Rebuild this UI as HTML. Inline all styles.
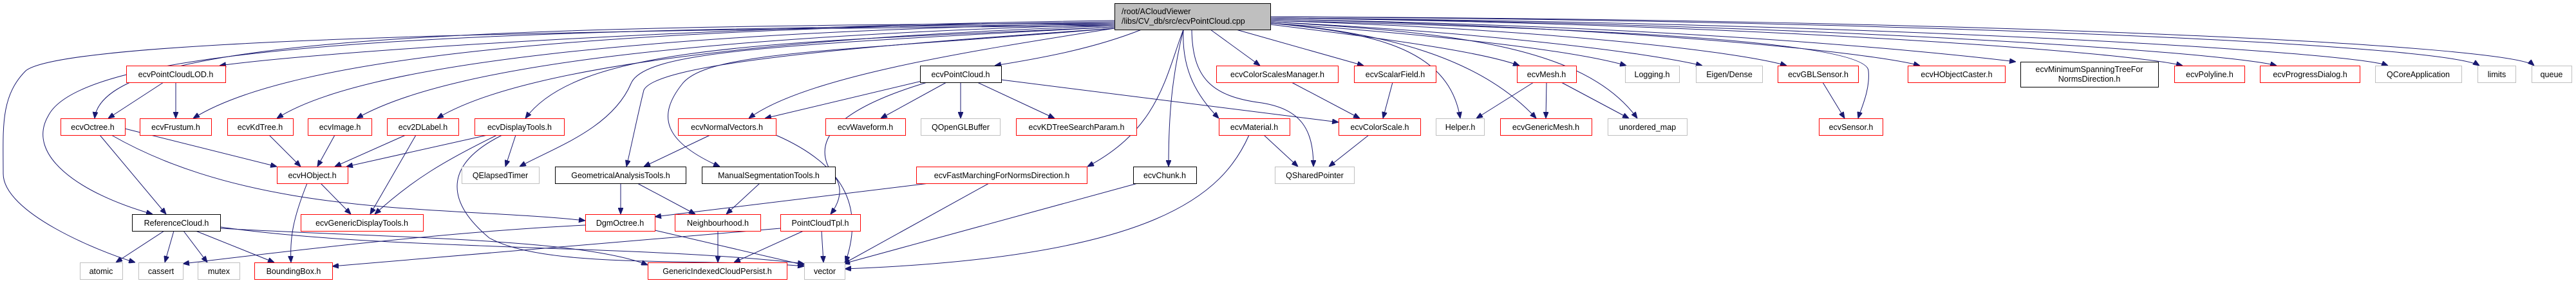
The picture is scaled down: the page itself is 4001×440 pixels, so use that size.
<!DOCTYPE html>
<html><head><meta charset="utf-8"><style>
html,body{margin:0;padding:0;background:#fff;width:4001px;height:440px;overflow:hidden}
svg text{font-family:"Liberation Sans","DejaVu Sans",sans-serif;font-size:12.5px;fill:#000}
.e{fill:none;stroke:#191970;stroke-width:1;marker-end:url(#a)}
.r{fill:#fff;stroke:#ff0000}.g{fill:#fff;stroke:#bfbfbf}.k{fill:#fff;stroke:#000}
</style></head><body>
<svg width="4001" height="440" viewBox="0 0 4001 440" xmlns="http://www.w3.org/2000/svg">
<defs><marker id="a" markerUnits="userSpaceOnUse" markerWidth="10" markerHeight="8" refX="10" refY="4" orient="auto"><path d="M0,0 L10,4 L0,8 z" fill="#191970" stroke="#191970"/></marker></defs>
<!-- root edges left -->
<path class="e" d="M1731,36 C700,40 160,60 147,184"/>
<path class="e" d="M1731,38 C700,44 130,70 75,180 C40,240 120,300 237,333"/>
<path class="e" d="M1731,40 C600,48 90,70 40,110 C0,150 5,200 5,270 C5,330 150,390 210,408"/>
<path class="e" d="M1731,32 C1100,40 500,80 341,102"/>
<path class="e" d="M1731,34 C900,44 450,90 300,184"/>
<path class="e" d="M1731,36 C1000,50 560,100 430,184"/>
<path class="e" d="M1731,38 C1100,56 700,100 554,184"/>
<path class="e" d="M1731,40 C1150,60 800,110 679,184"/>
<path class="e" d="M1731,42 C1200,66 900,70 816,184"/>
<path class="e" d="M1731,42 C1200,70 1000,80 980,130 C950,200 860,230 807,259"/>
<path class="e" d="M1731,44 C1300,74 1020,100 1000,140 C990,180 980,230 973,259"/>
<path class="e" d="M1731,44 C1300,80 1100,80 1060,130 C1020,180 1030,220 1118,259"/>
<path class="e" d="M1731,44 C1500,80 1250,120 1163,184"/>
<path class="e" d="M1773,46 C1700,75 1620,90 1545,102"/>
<path class="e" d="M1838,46 C1810,120 1800,200 1689,259"/>
<path class="e" d="M1838,46 C1820,120 1815,180 1815,259"/>
<path class="e" d="M1838,46 C1835,110 1860,150 1893,184"/>
<path class="e" d="M1851,46 C1852,120 1880,150 1960,160 C2020,170 2040,200 2040,259"/>
<path class="e" d="M1880,46 L1957,102"/>
<!-- root edges right -->
<path class="e" d="M1920,46 L2118,102"/>
<path class="e" d="M1973,36 C2120,50 2250,70 2268,184"/>
<path class="e" d="M1973,36 C2150,50 2300,90 2386,184"/>
<path class="e" d="M1973,38 C2150,60 2300,80 2360,102"/>
<path class="e" d="M1973,34 C2250,50 2460,70 2543,184"/>
<path class="e" d="M1973,36 C2250,55 2450,80 2526,102"/>
<path class="e" d="M1973,34 C2300,50 2550,80 2644,102"/>
<path class="e" d="M1973,32 C2400,45 2700,80 2775,102"/>
<path class="e" d="M1973,32 C2400,42 2900,60 2902,110 C2905,140 2890,170 2886,184"/>
<path class="e" d="M1973,30 C2500,40 2900,80 2982,102"/>
<path class="e" d="M1973,30 C2600,40 3000,80 3131,96"/>
<path class="e" d="M1973,28 C2700,36 3300,80 3390,102"/>
<path class="e" d="M1973,28 C2800,36 3450,80 3536,102"/>
<path class="e" d="M1973,28 C2900,34 3650,80 3709,102"/>
<path class="e" d="M1973,26 C3000,32 3800,70 3851,102"/>
<path class="e" d="M1973,26 C3100,30 3900,70 3936,102"/>
<!-- other edges -->
<path class="e" d="M254,128 L168,184"/>
<path class="e" d="M273,128 L273,184"/>
<path class="e" d="M194,200 L430,259"/>
<path class="e" d="M155,210 L258,333"/>
<path class="e" d="M173,210 C400,340 700,320 909,343"/>
<path class="e" d="M418,210 L467,259"/>
<path class="e" d="M520,210 L493,259"/>
<path class="e" d="M630,210 L520,259"/>
<path class="e" d="M646,210 L575,333"/>
<path class="e" d="M757,210 L538,259"/>
<path class="e" d="M772,210 C690,250 640,280 582,333"/>
<path class="e" d="M801,210 L785,259"/>
<path class="e" d="M780,210 C680,260 700,320 760,370 C850,420 1100,400 1249,414"/>
<path class="e" d="M498,285 L545,333"/>
<path class="e" d="M477,285 C455,340 450,370 452,408"/>
<path class="e" d="M255,359 L180,408"/>
<path class="e" d="M270,359 L256,408"/>
<path class="e" d="M285,359 L322,408"/>
<path class="e" d="M304,359 L426,408"/>
<path class="e" d="M343,353 C600,390 1000,380 1249,410"/>
<path class="e" d="M343,355 C600,370 900,370 1006,412"/>
<path class="e" d="M909,350 C700,360 450,390 284,410"/>
<path class="e" d="M1017,358 L1249,412"/>
<path class="e" d="M964,285 L964,333"/>
<path class="e" d="M990,285 L1080,333"/>
<path class="e" d="M1180,285 L1128,333"/>
<path class="e" d="M1103,210 L1000,259"/>
<path class="e" d="M1205,210 C1320,260 1340,330 1313,408"/>
<path class="e" d="M1440,124 L1188,184"/>
<path class="e" d="M1470,128 L1368,184"/>
<path class="e" d="M1492,128 L1492,184"/>
<path class="e" d="M1518,128 L1638,184"/>
<path class="e" d="M1440,128 C1300,170 1250,220 1300,280 C1310,300 1300,320 1290,333"/>
<path class="e" d="M1555,124 L2079,190"/>
<path class="e" d="M1115,359 L1115,408"/>
<path class="e" d="M1212,355 C900,380 700,400 516,414"/>
<path class="e" d="M1248,359 L1140,408"/>
<path class="e" d="M1276,359 L1279,408"/>
<path class="e" d="M1443,285 L1017,337"/>
<path class="e" d="M1536,285 L1310,410"/>
<path class="e" d="M1767,285 L1310,410"/>
<path class="e" d="M1940,210 C1900,300 1800,400 1312,418"/>
<path class="e" d="M1963,210 L2016,259"/>
<path class="e" d="M2006,128 L2112,184"/>
<path class="e" d="M2163,128 L2148,184"/>
<path class="e" d="M2126,210 L2064,259"/>
<path class="e" d="M2382,128 L2293,184"/>
<path class="e" d="M2402,128 L2401,184"/>
<path class="e" d="M2425,128 L2530,184"/>
<path class="e" d="M2831,128 L2865,184"/>
<!-- root -->
<rect x="1731.5" y="5.5" width="242" height="41" fill="#bfbfbf" stroke="#000"/>
<text x="1742" y="22">/root/ACloudViewer</text>
<text x="1742" y="37">/libs/CV_db/src/ecvPointCloud.cpp</text>
<!-- nodes -->
<g text-anchor="middle">
<rect class="r" x="196.5" y="102.5" width="154" height="26"/><text x="273" y="120">ecvPointCloudLOD.h</text>
<rect class="r" x="94.5" y="184.5" width="100" height="26"/><text x="144" y="202">ecvOctree.h</text>
<rect class="r" x="217.5" y="184.5" width="111" height="26"/><text x="273" y="202">ecvFrustum.h</text>
<rect class="r" x="353.5" y="184.5" width="102" height="26"/><text x="404" y="202">ecvKdTree.h</text>
<rect class="r" x="478.5" y="184.5" width="99" height="26"/><text x="528" y="202">ecvImage.h</text>
<rect class="r" x="601.5" y="184.5" width="111" height="26"/><text x="657" y="202">ecv2DLabel.h</text>
<rect class="r" x="737.5" y="184.5" width="139" height="26"/><text x="807" y="202">ecvDisplayTools.h</text>
<rect class="r" x="430.5" y="259.5" width="110" height="26"/><text x="485" y="277">ecvHObject.h</text>
<rect class="g" x="717.5" y="259.5" width="120" height="26"/><text x="777" y="277">QElapsedTimer</text>
<rect class="k" x="862.5" y="259.5" width="203" height="26"/><text x="964" y="277">GeometricalAnalysisTools.h</text>
<rect class="k" x="205.5" y="333.5" width="137" height="26"/><text x="274" y="351">ReferenceCloud.h</text>
<rect class="r" x="467.5" y="333.5" width="190" height="26"/><text x="562" y="351">ecvGenericDisplayTools.h</text>
<rect class="r" x="909.5" y="333.5" width="108" height="26"/><text x="963" y="351">DgmOctree.h</text>
<rect class="g" x="124.5" y="408.5" width="66" height="26"/><text x="157" y="426">atomic</text>
<rect class="g" x="215.5" y="408.5" width="69" height="26"/><text x="250" y="426">cassert</text>
<rect class="g" x="307.5" y="408.5" width="65" height="26"/><text x="340" y="426">mutex</text>
<rect class="r" x="395.5" y="408.5" width="121" height="26"/><text x="456" y="426">BoundingBox.h</text>
<rect class="k" x="1429.5" y="102.5" width="126" height="26"/><text x="1492" y="120">ecvPointCloud.h</text>
<rect class="r" x="1889.5" y="102.5" width="189" height="26"/><text x="1984" y="120">ecvColorScalesManager.h</text>
<rect class="r" x="1053.5" y="184.5" width="152" height="26"/><text x="1129" y="202">ecvNormalVectors.h</text>
<rect class="r" x="1282.5" y="184.5" width="124" height="26"/><text x="1344" y="202">ecvWaveform.h</text>
<rect class="g" x="1430.5" y="184.5" width="123" height="26"/><text x="1492" y="202">QOpenGLBuffer</text>
<rect class="r" x="1578.5" y="184.5" width="187" height="26"/><text x="1672" y="202">ecvKDTreeSearchParam.h</text>
<rect class="r" x="1893.5" y="184.5" width="110" height="26"/><text x="1948" y="202">ecvMaterial.h</text>
<rect class="k" x="1090.5" y="259.5" width="207" height="26"/><text x="1194" y="277">ManualSegmentationTools.h</text>
<rect class="r" x="1423.5" y="259.5" width="265" height="26"/><text x="1556" y="277">ecvFastMarchingForNormsDirection.h</text>
<rect class="k" x="1760.5" y="259.5" width="98" height="26"/><text x="1809" y="277">ecvChunk.h</text>
<rect class="g" x="1980.5" y="259.5" width="123" height="26"/><text x="2042" y="277">QSharedPointer</text>
<rect class="r" x="1048.5" y="333.5" width="133" height="26"/><text x="1115" y="351">Neighbourhood.h</text>
<rect class="r" x="1212.5" y="333.5" width="124" height="26"/><text x="1274" y="351">PointCloudTpl.h</text>
<rect class="r" x="1006.5" y="408.5" width="216" height="26"/><text x="1114" y="426">GenericIndexedCloudPersist.h</text>
<rect class="g" x="1249.5" y="408.5" width="63" height="26"/><text x="1281" y="426">vector</text>
<rect class="r" x="2103.5" y="102.5" width="127" height="26"/><text x="2167" y="120">ecvScalarField.h</text>
<rect class="r" x="2356.5" y="102.5" width="92" height="26"/><text x="2402" y="120">ecvMesh.h</text>
<rect class="g" x="2524.5" y="102.5" width="84" height="26"/><text x="2566" y="120">Logging.h</text>
<rect class="g" x="2634.5" y="102.5" width="103" height="26"/><text x="2686" y="120">Eigen/Dense</text>
<rect class="r" x="2761.5" y="102.5" width="125" height="26"/><text x="2824" y="120">ecvGBLSensor.h</text>
<rect class="r" x="2963.5" y="102.5" width="151" height="26"/><text x="3039" y="120">ecvHObjectCaster.h</text>
<rect class="r" x="2079.5" y="184.5" width="127" height="26"/><text x="2143" y="202">ecvColorScale.h</text>
<rect class="g" x="2230.5" y="184.5" width="75" height="26"/><text x="2268" y="202">Helper.h</text>
<rect class="r" x="2330.5" y="184.5" width="142" height="26"/><text x="2401" y="202">ecvGenericMesh.h</text>
<rect class="g" x="2497.5" y="184.5" width="123" height="26"/><text x="2559" y="202">unordered_map</text>
<rect class="r" x="2825.5" y="184.5" width="99" height="26"/><text x="2875" y="202">ecvSensor.h</text>
<rect class="k" x="3138.5" y="96.5" width="214" height="39"/><text x="3245" y="112">ecvMinimumSpanningTreeFor</text><text x="3245" y="127">NormsDirection.h</text>
<rect class="r" x="3377.5" y="102.5" width="109" height="26"/><text x="3432" y="120">ecvPolyline.h</text>
<rect class="r" x="3510.5" y="102.5" width="155" height="26"/><text x="3588" y="120">ecvProgressDialog.h</text>
<rect class="g" x="3689.5" y="102.5" width="134" height="26"/><text x="3756" y="120">QCoreApplication</text>
<rect class="g" x="3848.5" y="102.5" width="59" height="26"/><text x="3878" y="120">limits</text>
<rect class="g" x="3932.5" y="102.5" width="62" height="26"/><text x="3963" y="120">queue</text>
</g>
</svg>
</body></html>
